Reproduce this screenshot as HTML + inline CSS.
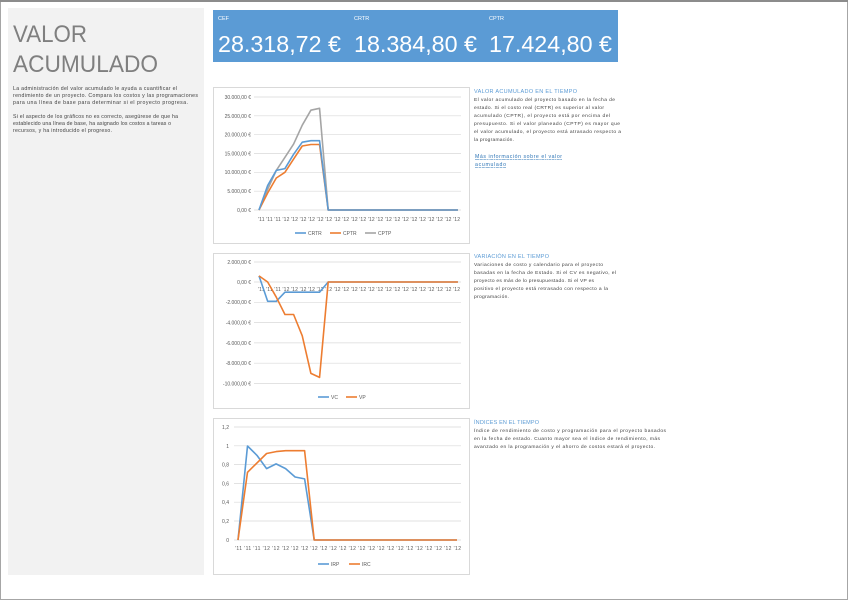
<!DOCTYPE html>
<html><head><meta charset="utf-8"><style>
body{margin:0;background:#fff}
svg{display:block;font-family:"Liberation Sans",sans-serif}
</style></head><body>
<svg width="848" height="600" viewBox="0 0 848 600" xmlns="http://www.w3.org/2000/svg">
<rect x="0.5" y="0.5" width="847" height="599" fill="#fff" stroke="#a6a6a6"/>
<line x1="0" x2="848" y1="1" y2="1" stroke="#8c8c8c" stroke-width="2"/>
<rect x="8" y="8" width="196" height="567" fill="#f2f2f2"/>
<text x="13" y="42" font-size="24" fill="#7f7f7f" textLength="74" lengthAdjust="spacingAndGlyphs">VALOR</text>
<text x="13" y="72" font-size="24" fill="#7f7f7f" textLength="145" lengthAdjust="spacingAndGlyphs">ACUMULADO</text>
<g font-size="5.2" fill="#404040">
<text x="13" y="90" textLength="164">La administración del valor acumulado le ayuda a cuantificar el</text>
<text x="13" y="97" textLength="185">rendimiento de un proyecto. Compara los costos y las programaciones</text>
<text x="13" y="104" textLength="175">para una línea de base para determinar si el proyecto progresa.</text>
<text x="13" y="118" textLength="165">Si el aspecto de los gráficos no es correcto, asegúrese de que ha</text>
<text x="13" y="125" textLength="158">establecido una línea de base, ha asignado los costos a tareas o</text>
<text x="13" y="132" textLength="99">recursos, y ha introducido el progreso.</text>
</g>
<rect x="213" y="10" width="405" height="52" fill="#5b9bd5"/>
<g fill="#fff">
<text x="218" y="20" font-size="5.5">CEF</text>
<text x="354" y="20" font-size="5.5">CRTR</text>
<text x="489" y="20" font-size="5.5">CPTR</text>
<text x="218" y="52" font-size="23" textLength="123" lengthAdjust="spacingAndGlyphs">28.318,72 €</text>
<text x="354" y="52" font-size="23" textLength="123" lengthAdjust="spacingAndGlyphs">18.384,80 €</text>
<text x="489" y="52" font-size="23" textLength="123" lengthAdjust="spacingAndGlyphs">17.424,80 €</text>
</g>
<!-- chart 1 -->
<rect x="213.5" y="87.5" width="256" height="156" fill="#fff" stroke="#d9d9d9"/>
<g stroke="#d9d9d9" stroke-width="0.7">
<line x1="254" x2="461" y1="97" y2="97"/><line x1="254" x2="461" y1="115.8" y2="115.8"/><line x1="254" x2="461" y1="134.7" y2="134.7"/><line x1="254" x2="461" y1="153.5" y2="153.5"/><line x1="254" x2="461" y1="172.3" y2="172.3"/><line x1="254" x2="461" y1="191.2" y2="191.2"/><line x1="254" x2="461" y1="210" y2="210"/>
</g>
<g font-size="5" fill="#595959" text-anchor="end">
<text x="251" y="99">30.000,00 €</text><text x="251" y="118">25.000,00 €</text><text x="251" y="136.5">20.000,00 €</text><text x="251" y="155.5">15.000,00 €</text><text x="251" y="174">10.000,00 €</text><text x="251" y="193">5.000,00 €</text><text x="251" y="212">0,00 €</text>
</g>
<g fill="none" stroke-width="1.6" stroke-linejoin="round">
<polyline stroke="#a5a5a5" points="259,210 267.65,189.3 276.3,170.4 284.95,157.3 293.6,144.1 302.25,125.2 310.9,110.2 319.55,108.3 328.2,210 457.95,210"/>
<polyline stroke="#ed7d31" points="259,210 267.65,193 276.3,178 284.95,172.3 293.6,159.1 302.25,146 310.9,144.5 319.55,144.5 328.2,210 457.95,210"/>
<polyline stroke="#5b9bd5" points="259,210 267.65,185.5 276.3,170.4 284.95,168.6 293.6,154.3 302.25,142.2 310.9,140.7 319.55,140.7 328.2,210 457.95,210"/>
</g>
<text x="258" y="221" font-size="5" fill="#595959" textLength="202" lengthAdjust="spacing">'11 '11 '11 '12 '12 '12 '12 '12 '12 '12 '12 '12 '12 '12 '12 '12 '12 '12 '12 '12 '12 '12 '12 '12</text>
<g font-size="5" fill="#595959">
<line x1="295" x2="306" y1="233" y2="233" stroke="#5b9bd5" stroke-width="1.6"/><text x="308" y="235">CRTR</text>
<line x1="330" x2="341" y1="233" y2="233" stroke="#ed7d31" stroke-width="1.6"/><text x="343" y="235">CPTR</text>
<line x1="365" x2="376" y1="233" y2="233" stroke="#a5a5a5" stroke-width="1.6"/><text x="378" y="235">CPTP</text>
</g>
<!-- chart 2 -->
<rect x="213.5" y="253.5" width="256" height="155" fill="#fff" stroke="#d9d9d9"/>
<g stroke="#d9d9d9" stroke-width="0.7">
<line x1="254" x2="461" y1="262" y2="262"/><line x1="254" x2="461" y1="282" y2="282"/><line x1="254" x2="461" y1="302.3" y2="302.3"/><line x1="254" x2="461" y1="322.6" y2="322.6"/><line x1="254" x2="461" y1="342.9" y2="342.9"/><line x1="254" x2="461" y1="363.2" y2="363.2"/><line x1="254" x2="461" y1="383.5" y2="383.5"/>
</g>
<g font-size="5" fill="#595959" text-anchor="end">
<text x="251" y="264">2.000,00 €</text><text x="251" y="284">0,00 €</text><text x="251" y="304">-2.000,00 €</text><text x="251" y="324.5">-4.000,00 €</text><text x="251" y="345">-6.000,00 €</text><text x="251" y="365">-8.000,00 €</text><text x="251" y="385.5">-10.000,00 €</text>
</g>
<text x="258" y="291" font-size="5" fill="#595959" textLength="202" lengthAdjust="spacing">'11 '11 '11 '12 '12 '12 '12 '12 '12 '12 '12 '12 '12 '12 '12 '12 '12 '12 '12 '12 '12 '12 '12 '12</text>
<g fill="none" stroke-width="1.6" stroke-linejoin="round">
<polyline stroke="#5b9bd5" points="259,275.9 267.65,301.3 276.3,301.3 284.95,292.2 293.6,292.2 302.25,292.2 310.9,292.2 319.55,292.2 328.2,282 457.95,282"/>
<polyline stroke="#ed7d31" points="259,275.9 267.65,282 276.3,297.2 284.95,314.5 293.6,314.5 302.25,335.8 310.9,373.4 319.55,377.4 328.2,282 457.95,282"/>
</g>
<g font-size="5" fill="#595959">
<line x1="318" x2="329" y1="397" y2="397" stroke="#5b9bd5" stroke-width="1.6"/><text x="331" y="399">VC</text>
<line x1="346" x2="357" y1="397" y2="397" stroke="#ed7d31" stroke-width="1.6"/><text x="359" y="399">VP</text>
</g>
<!-- chart 3 -->
<rect x="213.5" y="418.5" width="256" height="156" fill="#fff" stroke="#d9d9d9"/>
<g stroke="#d9d9d9" stroke-width="0.7">
<line x1="234" x2="461" y1="427" y2="427"/><line x1="234" x2="461" y1="445.8" y2="445.8"/><line x1="234" x2="461" y1="464.6" y2="464.6"/><line x1="234" x2="461" y1="483.4" y2="483.4"/><line x1="234" x2="461" y1="502.2" y2="502.2"/><line x1="234" x2="461" y1="521" y2="521"/><line x1="234" x2="461" y1="540" y2="540"/>
</g>
<g font-size="5" fill="#595959" text-anchor="end">
<text x="229" y="429">1,2</text><text x="229" y="448">1</text><text x="229" y="466.5">0,8</text><text x="229" y="485.5">0,6</text><text x="229" y="504">0,4</text><text x="229" y="523">0,2</text><text x="229" y="542">0</text>
</g>
<g fill="none" stroke-width="1.6" stroke-linejoin="round">
<polyline stroke="#5b9bd5" points="238,540 247.5,446 257,455.4 266.6,468.6 276.1,463.9 285.6,468.6 295.1,477 304.6,478.9 314.2,540 457,540"/>
<polyline stroke="#ed7d31" points="238,540 247.5,472.3 257,462.9 266.6,453.5 276.1,451.6 285.6,450.7 295.1,450.7 304.6,450.7 314.2,540 457,540"/>
</g>
<text x="235" y="550" font-size="5" fill="#595959" textLength="226" lengthAdjust="spacing">'11 '11 '11 '12 '12 '12 '12 '12 '12 '12 '12 '12 '12 '12 '12 '12 '12 '12 '12 '12 '12 '12 '12 '12</text>
<g font-size="5" fill="#595959">
<line x1="318" x2="329" y1="564" y2="564" stroke="#5b9bd5" stroke-width="1.6"/><text x="331" y="566">IRP</text>
<line x1="349" x2="360" y1="564" y2="564" stroke="#ed7d31" stroke-width="1.6"/><text x="362" y="566">IRC</text>
</g>
<!-- side texts -->
<g font-size="5.5" fill="#5b9bd5">
<text x="474" y="93" textLength="103">VALOR ACUMULADO EN EL TIEMPO</text>
<text x="474" y="258" textLength="75">VARIACIÓN EN EL TIEMPO</text>
<text x="474" y="424" textLength="65">ÍNDICES EN EL TIEMPO</text>
</g>
<g font-size="4.9" fill="#404040">
<text x="474" y="101" textLength="141">El valor acumulado del proyecto basado en la fecha de</text>
<text x="474" y="109" textLength="130">estado. Si el costo real (CRTR) es superior al valor</text>
<text x="474" y="117" textLength="136">acumulado (CPTR), el proyecto está por encima del</text>
<text x="474" y="125" textLength="146">presupuesto. Si el valor planeado (CPTP) es mayor que</text>
<text x="474" y="133" textLength="147">el valor acumulado, el proyecto está atrasado respecto a</text>
<text x="474" y="141" textLength="40">la programación.</text>
<text x="474" y="266" textLength="129">Variaciones de costo y calendario para el proyecto</text>
<text x="474" y="274" textLength="142">basadas en la fecha de Estado. Si el CV es negativo, el</text>
<text x="474" y="282" textLength="120">proyecto es más de lo presupuestado. Si el VP es</text>
<text x="474" y="290" textLength="134">positivo el proyecto está retrasado con respecto a la</text>
<text x="474" y="298" textLength="35">programación.</text>
<text x="474" y="432" textLength="192">Índice de rendimiento de costo y programación para el proyecto basados</text>
<text x="474" y="440" textLength="186">en la fecha de estado. Cuanto mayor sea el índice de rendimiento, más</text>
<text x="474" y="448" textLength="181">avanzado en la programación y el ahorro de costos estará el proyecto.</text>
</g>
<g font-size="5.2" fill="#2e75b6" text-decoration="underline">
<text x="475" y="158" textLength="87">Más información sobre el valor</text>
<text x="475" y="166" textLength="31">acumulado</text>
</g>
</svg>
</body></html>
